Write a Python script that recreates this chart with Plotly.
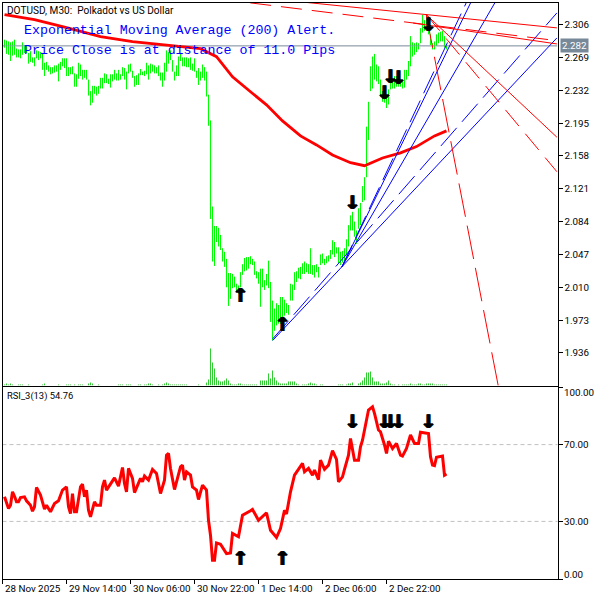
"""DOTUSD M30 chart with EMA, trend lines and an RSI pane, redrawn with plotly."""

import plotly.graph_objects as go

# price bars, one per 30 minutes
high = [
    2.289, 2.288, 2.287, 2.286, 2.287, 2.289, 2.279, 2.278, 2.278, 2.286,
    2.283, 2.282, 2.274, 2.276, 2.269, 2.269, 2.277, 2.276, 2.275, 2.274,
    2.263, 2.264, 2.260, 2.258, 2.258, 2.260, 2.260, 2.262, 2.264, 2.268,
    2.268, 2.268, 2.258, 2.258, 2.259, 2.251, 2.250, 2.263, 2.261, 2.255,
    2.255, 2.255, 2.244, 2.231, 2.237, 2.237, 2.236, 2.237, 2.246, 2.246,
    2.251, 2.250, 2.245, 2.250, 2.250, 2.255, 2.251, 2.255, 2.250, 2.258,
    2.257, 2.253, 2.261, 2.262, 2.254, 2.248, 2.249, 2.251, 2.256, 2.253,
    2.254, 2.263, 2.260, 2.262, 2.261, 2.260, 2.258, 2.260, 2.252, 2.252,
    2.263, 2.277, 2.275, 2.277, 2.266, 2.253, 2.260, 2.270, 2.273, 2.269,
    2.269, 2.269, 2.268, 2.269, 2.262, 2.268, 2.254, 2.257, 2.253, 2.261,
    2.258, 2.253, 2.227, 2.198, 2.101, 2.079, 2.079, 2.077, 2.069, 2.054,
    2.050, 2.042, 2.026, 2.026, 2.025, 2.022, 2.014, 2.012, 2.027, 2.036,
    2.043, 2.044, 2.044, 2.045, 2.042, 2.039, 2.028, 2.027, 2.031, 2.031,
    2.018, 2.025, 2.040, 2.016, 1.995, 1.986, 1.992, 1.990, 1.999, 1.999,
    1.996, 1.992, 1.990, 2.014, 2.013, 2.027, 2.028, 2.032, 2.033, 2.037,
    2.039, 2.037, 2.036, 2.054, 2.035, 2.035, 2.036, 2.033, 2.047, 2.048,
    2.042, 2.045, 2.046, 2.052, 2.063, 2.061, 2.055, 2.055, 2.050, 2.051,
    2.054, 2.064, 2.080, 2.091, 2.095, 2.084, 2.074, 2.099, 2.105, 2.124,
    2.134, 2.191, 2.219, 2.259, 2.270, 2.273, 2.261, 2.259, 2.244, 2.231,
    2.229, 2.225, 2.233, 2.242, 2.244, 2.248, 2.248, 2.246, 2.243, 2.242,
    2.255, 2.255, 2.265, 2.293, 2.286, 2.285, 2.286, 2.285, 2.302, 2.317,
    2.311, 2.317, 2.315, 2.295, 2.285, 2.287, 2.295, 2.297, 2.298, 2.299,
    2.293, 2.282,
]
low = [
    2.280, 2.273, 2.272, 2.265, 2.271, 2.272, 2.269, 2.269, 2.268, 2.272,
    2.274, 2.274, 2.262, 2.264, 2.263, 2.259, 2.268, 2.266, 2.268, 2.255,
    2.248, 2.255, 2.253, 2.250, 2.251, 2.252, 2.253, 2.242, 2.255, 2.259,
    2.257, 2.248, 2.248, 2.250, 2.250, 2.236, 2.236, 2.245, 2.248, 2.244,
    2.246, 2.244, 2.226, 2.215, 2.218, 2.228, 2.226, 2.228, 2.234, 2.234,
    2.240, 2.240, 2.239, 2.235, 2.242, 2.244, 2.243, 2.243, 2.244, 2.248,
    2.244, 2.233, 2.251, 2.253, 2.246, 2.236, 2.238, 2.238, 2.249, 2.249,
    2.248, 2.250, 2.244, 2.251, 2.253, 2.251, 2.251, 2.248, 2.243, 2.236,
    2.243, 2.253, 2.262, 2.266, 2.253, 2.243, 2.248, 2.248, 2.265, 2.259,
    2.259, 2.258, 2.258, 2.255, 2.254, 2.253, 2.246, 2.238, 2.243, 2.246,
    2.243, 2.225, 2.192, 2.087, 2.039, 2.034, 2.061, 2.056, 2.052, 2.039,
    2.033, 2.010, 1.989, 1.997, 2.009, 2.010, 2.005, 2.003, 2.010, 2.024,
    2.028, 2.029, 2.031, 2.036, 2.035, 2.024, 2.020, 2.014, 1.988, 2.010,
    2.007, 2.012, 2.009, 1.971, 1.950, 1.961, 1.967, 1.969, 1.969, 1.973,
    1.978, 1.981, 1.979, 1.995, 1.995, 2.007, 2.016, 2.020, 2.019, 2.025,
    2.025, 2.027, 2.025, 2.025, 2.024, 2.021, 2.027, 2.021, 2.035, 2.037,
    2.035, 2.037, 2.039, 2.042, 2.047, 2.044, 2.048, 2.037, 2.035, 2.038,
    2.040, 2.046, 2.056, 2.074, 2.074, 2.067, 2.059, 2.076, 2.080, 2.106,
    2.108, 2.134, 2.176, 2.231, 2.234, 2.244, 2.242, 2.239, 2.225, 2.219,
    2.218, 2.212, 2.216, 2.233, 2.234, 2.234, 2.236, 2.236, 2.236, 2.234,
    2.235, 2.244, 2.248, 2.259, 2.270, 2.272, 2.275, 2.278, 2.285, 2.297,
    2.299, 2.306, 2.295, 2.283, 2.278, 2.278, 2.282, 2.285, 2.287, 2.287,
    2.280, 2.278,
]
volume = [
    1, 2, 1, 2, 1, 0, 0, 1, 1, 1,
    0, 0, 1, 0, 0, 0, 0, 0, 0, 1,
    2, 0, 0, 0, 0, 0, 0, 1, 0, 0,
    0, 1, 1, 1, 0, 1, 0, 1, 1, 1,
    0, 0, 2, 3, 2, 0, 0, 1, 0, 0,
    0, 0, 0, 0, 0, 0, 0, 1, 1, 1,
    0, 1, 1, 1, 0, 0, 0, 1, 1, 0,
    1, 1, 2, 2, 1, 0, 0, 1, 0, 1,
    2, 3, 2, 1, 1, 1, 1, 1, 1, 1,
    1, 1, 0, 0, 0, 0, 0, 1, 0, 0,
    0, 3, 6, 37, 23, 17, 8, 5, 4, 4,
    5, 7, 5, 2, 1, 1, 1, 2, 2, 1,
    1, 1, 1, 1, 1, 1, 1, 0, 5, 5,
    5, 5, 12, 7, 15, 8, 5, 3, 2, 2,
    2, 2, 4, 4, 4, 4, 2, 1, 0, 1,
    1, 1, 2, 3, 2, 2, 1, 0, 1, 1,
    0, 0, 0, 0, 0, 0, 0, 1, 1, 1,
    0, 1, 2, 2, 3, 0, 0, 2, 3, 5,
    8, 13, 13, 14, 8, 4, 4, 4, 2, 2,
    2, 3, 5, 2, 1, 1, 0, 1, 0, 1,
    1, 1, 1, 2, 1, 1, 1, 2, 2, 1,
    1, 2, 2, 2, 2, 1, 1, 1, 1, 1,
    1, 1,
]

# EMA(200), bar index and price
ema_bar = [0, 15, 31, 48, 64, 81, 98, 106, 114, 123, 131, 139, 148, 156, 164,
           173, 180, 189, 198, 206, 215, 221]
ema_price = [2.3173, 2.3117, 2.3026, 2.2924, 2.2868, 2.2826, 2.2789, 2.2698,
             2.2472, 2.2303, 2.2156, 2.1975, 2.1806, 2.1704, 2.1591, 2.1504,
             2.1470, 2.1557, 2.1614, 2.1685, 2.1806, 2.1862]

# RSI, bar index and value
rsi_bar = [
    0, 1, 2, 3, 4, 5, 6, 7, 8, 10, 11, 13, 14, 15, 16, 18, 19, 20, 21, 23, 25,
    27, 29, 31, 32, 33, 34, 35, 36, 38, 39, 40, 41, 42, 43, 45, 46, 48, 49, 50,
    51, 53, 55, 57, 59, 60, 61, 62, 64, 65, 68, 69, 70, 72, 74, 76, 78, 80, 81,
    82, 83, 85, 88, 89, 90, 91, 93, 94, 96, 97, 99, 101, 102, 103, 104, 105,
    106, 108, 111, 113, 114, 117, 119, 123, 124, 127, 131, 133, 136, 138, 140,
    141, 143, 145, 147, 149, 150, 152, 154, 155, 157, 158, 160, 162, 164, 166,
    167, 169, 170, 172, 173, 175, 177, 178, 179, 182, 184, 185, 187, 188, 190,
    191, 192, 194, 196, 198, 199, 201, 203, 205, 207, 208, 212, 213, 214, 215,
    216, 219, 220, 221,
]
rsi_value = [
    42.8, 40.2, 36.7, 38.4, 45.4, 43.1, 40.2, 40.2, 42.4, 42.8, 40.7, 38.4,
    35.3, 37.6, 47.7, 43.7, 39.3, 36.4, 38.4, 35.0, 39.3, 40.7, 46.3, 48.0,
    37.6, 34.1, 44.5, 35.0, 35.0, 48.0, 49.4, 42.8, 46.3, 35.8, 32.4, 40.2,
    38.4, 38.4, 48.0, 51.5, 46.3, 49.8, 52.7, 48.4, 58.1, 49.8, 45.4, 57.6,
    52.4, 45.0, 52.4, 50.6, 53.6, 51.5, 57.1, 55.0, 44.5, 51.5, 64.5, 65.4,
    57.6, 46.6, 58.4, 59.3, 51.5, 55.8, 54.1, 48.0, 46.3, 41.4, 48.9, 46.3,
    30.6, 22.8, 9.8, 9.8, 18.8, 18.1, 13.2, 13.6, 23.7, 22.0, 33.2, 35.5,
    36.2, 30.6, 34.5, 25.4, 21.6, 26.3, 35.8, 33.8, 45.4, 54.1, 57.1, 60.2,
    55.8, 57.6, 54.1, 56.7, 51.8, 61.9, 57.1, 59.3, 66.8, 62.3, 50.6, 53.2,
    57.1, 64.5, 73.2, 61.9, 61.9, 68.9, 72.3, 88.0, 89.7, 86.3, 77.6, 76.7,
    69.8, 65.4, 71.8, 68.0, 70.6, 64.5, 64.0, 68.0, 75.0, 70.6, 70.6, 76.4,
    75.8, 63.7, 59.3, 59.0, 63.4, 64.0, 54.1, 54.76,
]

# signal arrows
up_bar = [118, 139]
up_price = [1.999, 1.966]
down_bar = [174, 190, 193, 197, 212]
down_price = [2.104, 2.227, 2.245, 2.244, 2.304]
rsi_up_level = 9.8
rsi_down_level = 81.2

# trend lines: start bar, start price, end bar, end price
blue_solid = [
    (134.1, 1.9501, 276.2, 2.2910),
    (168.7, 2.0329, 245.35, 2.3312),
    (168.7, 2.0329, 233.2, 2.3312),
]
blue_dashed = [
    (134.1, 1.9518, 276.2, 2.3192),
    (168.7, 2.0329, 230.85, 2.3305),
]
red_solid = [
    (151.35, 2.3309, 276.2, 2.3023),
    (204.35, 2.3077, 276.2, 2.2842),
    (210.85, 2.3173, 276.2, 2.1791),
]
red_dashed = [
    (122.85, 2.3305, 276.2, 2.2879),
    (210.85, 2.3173, 276.2, 2.1402),
]
red_long_dash = [(210.85, 2.3173, 246.85, 1.8992)]

price_ticks = [2.306, 2.269, 2.232, 2.195, 2.158, 2.121, 2.084, 2.047, 2.010, 1.973, 1.936]
last_price = 2.282
rsi_ticks = [100, 70, 30, 0]
rsi_tick_labels = ["100.00", "70.00", "30.00", "0.00"]
rsi_tick_shift = [-5, 0, 0, 5]
time_ticks = [-1, 31, 63, 95, 127, 159, 191]
time_labels = ["28 Nov 2025", "29 Nov 14:00", "30 Nov 06:00", "30 Nov 22:00",
               "1 Dec 14:00", "2 Dec 06:00", "2 Dec 22:00"]

FONT = "Roboto"
BAR_RANGE = [-1, 276.5]
PRICE_RANGE = [1.8993, 2.3309]


def stick_trace(bottom, top, color, yaxis):
    # one pixel wide sticks, go.Bar would widen them to at least two pixels
    xs, ys = [], []
    for i, (y0, y1) in enumerate(zip(bottom, top)):
        xs += [i, i, None]
        ys += [y0, y1, None]
    return go.Scatter(x=xs, y=ys, mode="lines", xaxis="x", yaxis=yaxis, hoverinfo="skip",
                      line=dict(color=color, width=1))


def trend_trace(lines, color, dash="solid"):
    xs, ys = [], []
    for x0, y0, x1, y1 in lines:
        xs += [x0, x1, None]
        ys += [y0, y1, None]
    return go.Scatter(x=xs, y=ys, mode="lines", hoverinfo="skip",
                      line=dict(color=color, width=1, dash=dash))


def arrow_trace(x, y, glyph, xaxis="x", yaxis="y"):
    # the shadow thickens the thin glyph to the heavy arrows of the terminal
    return go.Scatter(x=x, y=y, mode="text", text=[glyph] * len(x), xaxis=xaxis, yaxis=yaxis,
                      textposition="middle center", hoverinfo="skip",
                      textfont=dict(family="DejaVu Sans", size=19, color="black", weight="bold",
                                    shadow="1px 0 0 #000, -1px 0 0 #000"))


fig = go.Figure()

fig.add_trace(stick_trace([0] * len(volume), volume, "#32cd32", "y3"))
fig.add_trace(stick_trace(low, high, "#00ff00", "y"))
fig.add_trace(go.Scatter(x=BAR_RANGE, y=[last_price, last_price], mode="lines",
                         line=dict(color="#778899", width=1)))
fig.add_trace(go.Scatter(x=ema_bar, y=ema_price, mode="lines", line=dict(color="#ff0000", width=2.8)))
fig.add_trace(trend_trace(blue_solid, "#0000ff"))
fig.add_trace(trend_trace(blue_dashed, "#0000ff", "24px,8px"))
fig.add_trace(trend_trace(red_solid, "#ff0000"))
fig.add_trace(trend_trace(red_dashed, "#ff0000", "21px,10px"))
fig.add_trace(trend_trace(red_long_dash, "#ff0000", "34px,9px"))
fig.add_trace(arrow_trace(up_bar, up_price, "↑"))
fig.add_trace(arrow_trace(down_bar, down_price, "↓"))

fig.add_trace(go.Scatter(x=rsi_bar, y=rsi_value, mode="lines", xaxis="x2", yaxis="y2",
                         line=dict(color="#ff0000", width=3)))
fig.add_trace(arrow_trace(up_bar, [rsi_up_level] * len(up_bar), "↑", "x2", "y2"))
fig.add_trace(arrow_trace(down_bar, [rsi_down_level] * len(down_bar), "↓", "x2", "y2"))

for level in (70, 30):
    fig.add_shape(type="line", xref="x2 domain", yref="y2", x0=0, x1=1, y0=level, y1=level,
                  line=dict(color="#c0c0c0", width=1, dash="4px,3px"), layer="below")

notes = [
    dict(x=6 / 600, y=1 - 10 / 600, text="DOTUSD, M30:  Polkadot vs US Dollar", size=10.1, color="black", family=FONT),
    dict(x=23 / 600, y=1 - 30 / 600, text="Exponential Moving Average (200) Alert.", size=13.3, color="#0000ff", family="Liberation Mono"),
    dict(x=23 / 600, y=1 - 50 / 600, text="Price Close is at distance of 11.0 Pips", size=13.3, color="#0000ff", family="Liberation Mono"),
    dict(x=6 / 600, y=1 - 396 / 600, text="RSI_3(13) 54.76", size=9.4, color="black", family=FONT),
]
annotations = [
    dict(x=n["x"], y=n["y"], xref="paper", yref="paper", xanchor="left", yanchor="middle",
         text=n["text"], showarrow=False, borderpad=0,
         font=dict(size=n["size"], color=n["color"], family=n["family"]))
    for n in notes
]
# time labels start at their tick, not centred on it
for tick, label in zip(time_ticks, time_labels):
    annotations.append(dict(x=tick, y=1 - 588 / 600, xref="x2", yref="paper", xanchor="left",
                            yanchor="middle", xshift=0, text=label, showarrow=False,
                            font=dict(size=9.8, color="black", family=FONT)))
# the 100 and 0 labels are pushed inside the pane
for tick, label, shift in zip(rsi_ticks, rsi_tick_labels, rsi_tick_shift):
    annotations.append(dict(x=562 / 600, y=tick, xref="paper", yref="y2", xanchor="left",
                            yanchor="middle", yshift=shift, text=label, showarrow=False,
                            font=dict(size=9.8, color="black", family=FONT)))
annotations.append(dict(x=560 / 600, y=last_price, xref="paper", yref="y", xanchor="left",
                        yanchor="middle", text=f"{last_price:.3f}", showarrow=False,
                        bgcolor="#778899", borderpad=1,
                        font=dict(size=9.8, color="white", family=FONT)))

axis = dict(showgrid=False, zeroline=False, showline=True, mirror=True, linecolor="black",
            linewidth=1, ticks="outside", ticklen=4, tickcolor="black", tickwidth=1,
            tickfont=dict(size=9.8, color="black", family=FONT))

fig.update_layout(
    width=600,
    height=600,
    margin=dict(l=0, r=0, t=0, b=0),
    paper_bgcolor="white",
    plot_bgcolor="white",
    showlegend=False,
    annotations=annotations,
    xaxis=dict(axis, domain=[2.5 / 600, 557.5 / 600], range=BAR_RANGE, anchor="y",
               ticks="", showticklabels=False),
    xaxis2=dict(axis, domain=[2.5 / 600, 557.5 / 600], range=BAR_RANGE, anchor="y2",
                tickvals=time_ticks, showticklabels=False),
    yaxis=dict(axis, domain=[1 - 385.5 / 600, 1 - 2.5 / 600], range=PRICE_RANGE, side="right",
               anchor="x", tickvals=price_ticks, ticktext=[f"{p:.3f}" for p in price_ticks]),
    yaxis2=dict(axis, domain=[1 - 579 / 600, 1 - 387 / 600], range=[0, 100], side="right",
                anchor="x2", tickvals=rsi_ticks, showticklabels=False),
    yaxis3=dict(domain=[1 - 385.5 / 600, 1 - 2.5 / 600], range=[0, 382.5], overlaying="y",
                visible=False),
)

fig.write_html("out.html", config=dict(displayModeBar=False),
               post_script="document.body.style.margin='0';")
